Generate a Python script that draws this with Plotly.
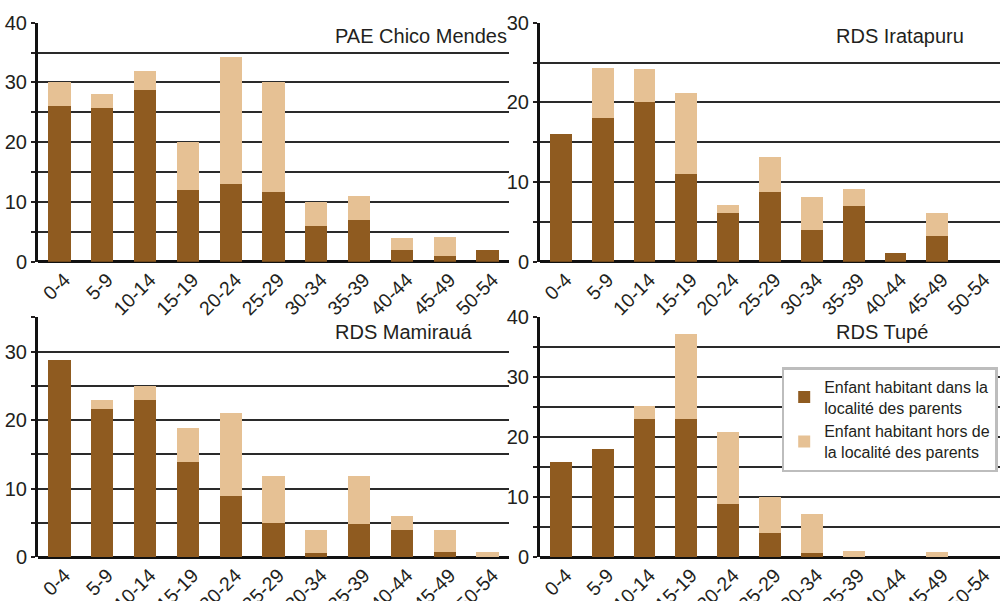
import plotly.graph_objects as go

age_groups = ["0-4", "5-9", "10-14", "15-19", "20-24", "25-29", "30-34", "35-39", "40-44", "45-49", "50-54"]

# Enfant habitant dans la localité des parents (dark) / hors de la localité (light)
chico_in = [26, 25.8, 28.8, 12, 13, 11.6, 6, 7, 2, 1, 2]
chico_out = [4.1, 2.3, 3.2, 8, 21.2, 18.5, 4, 4, 2, 3.1, 0]

irata_in = [16, 18, 20, 11, 6.1, 8.7, 4, 7, 1.1, 3.2, 0]
irata_out = [0, 6.3, 4.2, 10.2, 1, 4.4, 4.1, 2.1, 0, 2.9, 0]

mami_in = [28.8, 21.7, 22.9, 13.9, 8.9, 5, 0.65, 4.9, 4, 0.8, 0]
mami_out = [0, 1.2, 2.1, 5, 12.1, 6.9, 3.35, 7, 2, 3.2, 0.8]

tupe_in = [15.9, 18, 23, 23, 8.9, 4, 0.7, 0, 0, 0, 0]
tupe_out = [0, 0, 2.2, 14.2, 12, 6, 6.5, 1.05, 0, 0.9, 0]

titles = ["PAE Chico Mendes", "RDS Iratapuru", "RDS Mamirauá", "RDS Tupé"]
y_max = [40, 30, 35, 40]
legend_names = ["Enfant habitant dans la<br>localité des parents",
                "Enfant habitant hors de<br>la localité des parents"]

DARK = "#8f5b20"
LIGHT = "#e6c194"
TXT = "#231f20"
FONT = "Liberation Sans, Arial, sans-serif"

panels = [(chico_in, chico_out), (irata_in, irata_out), (mami_in, mami_out), (tupe_in, tupe_out)]
axis_ids = ["", "2", "3", "4"]

fig = go.Figure()
for i, (vin, vout) in enumerate(panels):
    xa = "x" + axis_ids[i]
    ya = "y" + axis_ids[i]
    fig.add_trace(go.Bar(x=age_groups, y=vin, marker=dict(color=DARK, line=dict(width=0)),
                         name=legend_names[0], showlegend=(i == 0), xaxis=xa, yaxis=ya))
    fig.add_trace(go.Bar(x=age_groups, y=vout, marker=dict(color=LIGHT, line=dict(width=0)),
                         name=legend_names[1], showlegend=(i == 0), xaxis=xa, yaxis=ya))

x_domains = [[0.038, 0.509], [0.540, 1.0], [0.038, 0.509], [0.540, 1.0]]
y_domains = [[0.5646, 0.9622], [0.5646, 0.9622], [0.0727, 0.472], [0.0727, 0.472]]

layout = dict(
    template="none",
    width=1000, height=601,
    margin=dict(l=0, r=0, t=0, b=0, autoexpand=False),
    paper_bgcolor="white", plot_bgcolor="white",
    barmode="stack", bargap=0.48,
    font=dict(family=FONT, size=19, color=TXT),
    showlegend=True,
    legend=dict(x=0.7817, y=0.389, xanchor="left", yanchor="top",
                bgcolor="white", bordercolor="#bdbdbd", borderwidth=2.5,
                font=dict(family=FONT, size=16, color=TXT),
                itemwidth=30, traceorder="normal", tracegroupgap=0),
)
annotations = []
title_pos = [(0.333, 0.940), (0.834, 0.940), (0.333, 0.4476), (0.834, 0.4476)]
for i in range(4):
    suffix = axis_ids[i]
    tv = list(range(0, y_max[i] + 1, 5))
    tt = [str(v) if v % 10 == 0 else "" for v in tv]
    layout["xaxis" + suffix] = dict(
        domain=x_domains[i], anchor="y" + suffix, type="category",
        categoryorder="array", categoryarray=age_groups, automargin=False,
        range=[-0.5, 10.5], tickangle=-45, showgrid=False,
        showline=False, ticks="", tickfont=dict(size=19.5), zeroline=False,
        ticklabelshift=5, ticklabelstandoff=2,
        fixedrange=True)
    layout["yaxis" + suffix] = dict(
        domain=y_domains[i], anchor="x" + suffix, range=[0, y_max[i]],
        automargin=False,
        tickvals=tv, ticktext=tt, ticks="outside", ticklen=4, tickwidth=2,
        tickcolor=TXT, showgrid=True, gridcolor="#2a2a2a", gridwidth=1.5,
        showline=True, linecolor="#111111", linewidth=3,
        zeroline=True, zerolinecolor="#111111", zerolinewidth=3,
        tickfont=dict(size=20), fixedrange=True)
    annotations.append(dict(text=titles[i], xref="paper", yref="paper",
                            x=title_pos[i][0], y=title_pos[i][1],
                            xanchor="left", yanchor="middle", showarrow=False,
                            font=dict(size=20, color=TXT, family=FONT)))
layout["annotations"] = annotations
fig.update_layout(**layout)

fig.write_html("out.html", config={"displayModeBar": False},
               post_script="document.body.style.margin='0px';")
